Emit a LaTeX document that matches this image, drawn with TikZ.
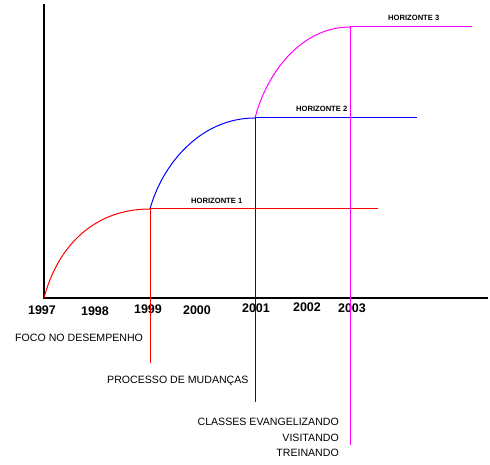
\documentclass[tikz,border=0pt]{standalone}
\usepackage{fontspec}
\setmainfont{Liberation Sans}
\usetikzlibrary{positioning}

\definecolor{hmag}{RGB}{255,0,255}

\tikzset{
  year/.style={font=\fontsize{12.5}{14}\selectfont\bfseries, inner sep=0pt},
  horiz/.style={font=\fontsize{7.6}{9}\selectfont\bfseries, inner sep=0pt},
  phase/.style={font=\fontsize{10.6}{12}\selectfont, inner sep=0pt},
  track/.style={line width=1pt}
}

\begin{document}
\begin{tikzpicture}[x=1pt, y=-1pt]
  \useasboundingbox (0,0) rectangle (490,465);
  % axes
  \coordinate (O) at (44,298);
  \coordinate (ytop) at (44,4);
  \coordinate (xend) at (488,298);
  \draw[line width=2.4pt] (ytop) -- (O) -- (xend);
  % years
  \foreach \yr/\x/\y in {1997/42/310, 1998/95/311, 1999/148/309, 2000/197/310,
                         2001/256/308, 2002/307/307, 2003/352/308}
    \node[year] (y\yr) at (\x,\y) {\yr};
  % horizon points
  \coordinate (h1) at (150,209);
  \coordinate (h2) at (255,118);
  \coordinate (h3) at (350,27);
  \coordinate (h1e) at (378,209);
  \coordinate (h2e) at (417,118);
  \coordinate (h3e) at (472,27);
  \coordinate (h1d) at (150,363);
  \coordinate (h2d) at (255,402);
  \coordinate (h3d) at (350,445);
  % curves
  \draw[track, red] (O) .. controls (58,245) and (95,209) .. (h1);
  \draw[track, blue] (h1) .. controls (162,165) and (200,118) .. (h2);
  \draw[track, hmag] (h2) .. controls (266,75) and (300,27) .. (h3);
  % horizon lines
  \draw[track, red] (h1d) -- (h1) -- (h1e);
  \draw[track, blue] (h2d) -- (h2) -- (h2e);
  \draw[track, hmag] (h3d) -- (h3) -- (h3e);
  \node[horiz, anchor=west] (hz1) at (191,201) {HORIZONTE 1};
  \node[horiz, anchor=west] (hz2) at (296,109) {HORIZONTE 2};
  \node[horiz, anchor=west] (hz3) at (388,18) {HORIZONTE 3};
  % phases
  \node[phase, anchor=west] (foco) at (15,338) {FOCO NO DESEMPENHO};
  \node[phase, anchor=west] (proc) at (107,381) {PROCESSO DE MUDANÇAS};
  \node[phase, anchor=east] (clas) at (339,422) {CLASSES EVANGELIZANDO};
  \node[phase, anchor=east] (visi) at (339,438) {VISITANDO};
  \node[phase, anchor=east] (trei) at (339,453) {TREINANDO};
\end{tikzpicture}
\end{document}
